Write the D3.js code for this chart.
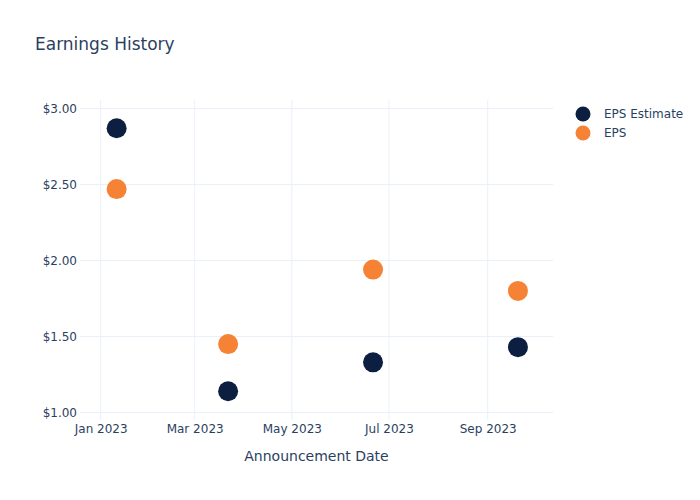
<!DOCTYPE html>
<html>
<head>
<meta charset="utf-8">
<script src="https://cdn.jsdelivr.net/npm/d3@7"></script>
<style>
  body { margin: 0; background: #fff; }
  svg text { font-family: "DejaVu Sans", "Open Sans", sans-serif; fill: #2a3f5f; }
</style>
</head>
<body>
<svg id="chart" width="700" height="500"></svg>
<script>
const dates = ["2023-01-11", "2023-03-22", "2023-06-21", "2023-09-20"];
const epsEstimate = [2.87, 1.14, 1.33, 1.43];
const eps = [2.47, 1.45, 1.94, 1.80];
const seriesNames = ["EPS Estimate", "EPS"];
const seriesColors = ["#0c1f40", "#f58235"];
const yTicks = [1.0, 1.5, 2.0, 2.5, 3.0];
const xTicks = ["2023-01-01", "2023-03-01", "2023-05-01", "2023-07-01", "2023-09-01"];

const parse = d3.timeParse("%Y-%m-%d");
const svg = d3.select("#chart");
const W = 700, H = 500;
const m = { l: 80, r: 147, t: 100, b: 80 };

const x = d3.scaleTime()
  .domain([parse("2022-12-19"), parse("2023-10-12")])
  .range([m.l, W - m.r]);
const y = d3.scaleLinear()
  .domain([0.9474, 3.0526])
  .range([H - m.b + 0.5, m.t + 0.5]);

// grid
const g = svg.append("g");
g.selectAll(".gx").data(xTicks).enter().append("line")
  .attr("x1", d => x(parse(d))).attr("x2", d => x(parse(d)))
  .attr("y1", m.t).attr("y2", H - m.b)
  .attr("stroke", "#ebf0f8").attr("stroke-width", 1);
g.selectAll(".gy").data(yTicks).enter().append("line")
  .attr("x1", m.l).attr("x2", W - m.r)
  .attr("y1", d => y(d)).attr("y2", d => y(d))
  .attr("stroke", "#ebf0f8").attr("stroke-width", 1);

// axes
const xAxis = d3.axisBottom(x).tickValues(xTicks.map(parse))
  .tickFormat(d3.timeFormat("%b %Y")).tickSize(0).tickPadding(4);
const gx = svg.append("g").attr("transform", `translate(0,${H - m.b})`).call(xAxis);
gx.select(".domain").remove();
gx.selectAll("text").attr("font-size", 12).style("fill", "#2a3f5f")
  .style("font-family", "DejaVu Sans, sans-serif");

const yAxis = d3.axisLeft(y).tickValues(yTicks)
  .tickFormat(d => "$" + d3.format(".2f")(d)).tickSize(0).tickPadding(3);
const gy = svg.append("g").attr("transform", `translate(${m.l},0)`).call(yAxis);
gy.select(".domain").remove();
gy.selectAll("text").attr("font-size", 12).style("fill", "#2a3f5f")
  .style("font-family", "DejaVu Sans, sans-serif");

// points
const series = [epsEstimate, eps];
series.forEach((vals, si) => {
  svg.append("g").selectAll("circle").data(vals).enter().append("circle")
    .attr("cx", (d, i) => x(parse(dates[i])))
    .attr("cy", d => y(d))
    .attr("r", 10)
    .attr("fill", seriesColors[si]);
});

// title
svg.append("text").attr("x", 35).attr("y", 50).attr("font-size", 17)
  .text("Earnings History");

// x axis title
svg.append("text").attr("x", (m.l + W - m.r) / 2).attr("y", 461)
  .attr("text-anchor", "middle").attr("font-size", 14)
  .text("Announcement Date");

// legend
const lg = svg.append("g");
seriesNames.forEach((n, i) => {
  lg.append("circle").attr("cx", 583).attr("cy", 114 + i * 19).attr("r", 7.5)
    .attr("fill", seriesColors[i]);
  lg.append("text").attr("x", 604).attr("y", 118 + i * 19)
    .attr("font-size", 12).text(n);
});
</script>
</body>
</html>
